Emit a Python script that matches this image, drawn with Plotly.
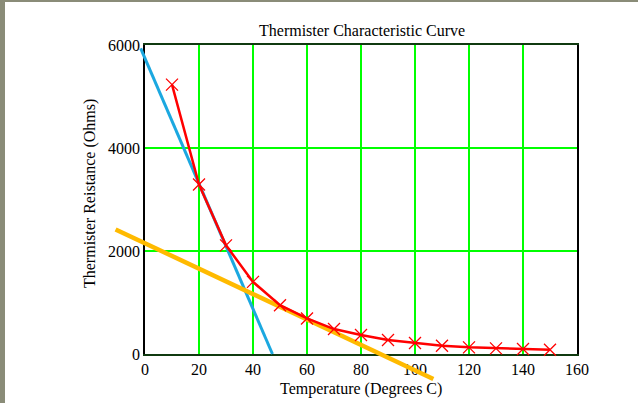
import plotly.graph_objects as go

# ---- data ----
temps = [10, 20, 30, 40, 50, 60, 70, 80, 90, 100, 110, 120, 130, 140, 150]
resistance = [5230, 3290, 2110, 1400, 948, 690, 484, 368, 271, 213, 161, 129, 110, 97, 83]
tangent1_x = [-1.6, 47.2]
tangent1_y = [5936, 0]
tangent2_x = [-10.9, 106.8]
tangent2_y = [2419, -484]
x_ticks = [0, 20, 40, 60, 80, 100, 120, 140, 160]
y_ticks = [0, 2000, 4000, 6000]

W, H = 638, 403
ML, MR, MT, MB = 100, 40, 30, 20
PW, PH = W - ML - MR, H - MT - MB

# main plot area in pixels
px_left, px_right, px_top, px_bottom = 145, 577, 45, 354
X0, X1, Y0, Y1 = 0, 160, 0, 6000

def fx(px):
    return (px - ML) / PW

def fy(py):
    return (H - MB - py) / PH

sx = (px_right - px_left) / (X1 - X0)
sy = (px_bottom - px_top) / (Y1 - Y0)
# extended overlay subplot covering whole paper
ox0 = X0 + (ML - px_left) / sx
ox1 = X0 + (W - MR - px_left) / sx
oy0 = Y0 - ((H - MB) - px_bottom) / sy
oy1 = Y0 + (px_bottom - MT) / sy

font = "Liberation Serif, Times New Roman, serif"

fig = go.Figure()
# invisible trace so the framed main axes are drawn
fig.add_trace(go.Scatter(x=temps, y=resistance, mode="lines",
                         line=dict(color="rgba(0,0,0,0)", width=0),
                         hoverinfo="skip", xaxis="x", yaxis="y",
                         showlegend=False))
fig.add_trace(go.Scatter(x=tangent1_x, y=tangent1_y, mode="lines",
                         line=dict(color="#1BA8E0", width=3),
                         xaxis="x2", yaxis="y2", showlegend=False))
fig.add_trace(go.Scatter(x=tangent2_x, y=tangent2_y, mode="lines",
                         line=dict(color="#FFBA00", width=4.5),
                         xaxis="x2", yaxis="y2", showlegend=False))
fig.add_trace(go.Scatter(x=temps, y=resistance, mode="lines+markers",
                         line=dict(color="#FF0000", width=2.5),
                         marker=dict(symbol="x-thin-open", size=12,
                                     line=dict(color="#FF0000", width=1.3)),
                         xaxis="x2", yaxis="y2", showlegend=False))

hidden = dict(showgrid=False, showline=False, showticklabels=False,
              zeroline=False, ticks="", fixedrange=True)

fig.update_layout(
    template="none",
    width=W, height=H,
    margin=dict(l=ML, r=MR, t=MT, b=MB),
    paper_bgcolor="white", plot_bgcolor="rgba(0,0,0,0)",
    font=dict(family=font, size=16, color="black"),
    xaxis=dict(domain=[fx(px_left), fx(px_right)], range=[X0, X1],
               tickvals=x_ticks, ticktext=[str(v) for v in x_ticks],
               showgrid=True, gridcolor="#00FF00", gridwidth=2,
               zeroline=False, showline=True, linecolor="#103a10",
               linewidth=1.5, mirror=True, ticks="", anchor="y",
               tickfont=dict(family=font, size=16), fixedrange=True),
    yaxis=dict(domain=[fy(px_bottom), fy(px_top)], range=[Y0, Y1],
               tickvals=y_ticks, ticktext=[str(v) for v in y_ticks],
               showgrid=True, gridcolor="#00FF00", gridwidth=2,
               zeroline=False, showline=True, linecolor="#000000",
               linewidth=1.5, mirror=True, ticks="", anchor="x",
               tickfont=dict(family=font, size=16), fixedrange=True),
    xaxis2=dict(domain=[0, 1], range=[ox0, ox1], anchor="y2", **hidden),
    yaxis2=dict(domain=[0, 1], range=[oy0, oy1], anchor="x2", **hidden),
    annotations=[
        dict(text="Thermister Characteristic Curve", x=fx(362), y=fy(30),
             xref="paper", yref="paper", showarrow=False,
             xanchor="center", yanchor="middle",
             font=dict(family=font, size=16)),
        dict(text="Temperature (Degrees C)", x=fx(361), y=fy(389),
             xref="paper", yref="paper", showarrow=False,
             xanchor="center", yanchor="middle",
             font=dict(family=font, size=16)),
        dict(text="Thermister Reistance (Ohms)", x=fx(90), y=fy(194),
             xref="paper", yref="paper", showarrow=False, textangle=-90,
             xanchor="center", yanchor="middle",
             font=dict(family=font, size=16)),
    ],
    shapes=[
        dict(type="rect", xref="paper", yref="paper",
             x0=fx(0), x1=fx(5), y0=fy(H), y1=fy(0),
             fillcolor="#8a8c78", line=dict(width=0), layer="above"),
        dict(type="rect", xref="paper", yref="paper",
             x0=fx(0), x1=fx(W), y0=fy(2), y1=fy(0),
             fillcolor="#8a8c78", line=dict(width=0), layer="above"),
    ],
)

fig.write_html("out.html", config={"displayModeBar": False},
               post_script="document.body.style.margin='0';")
